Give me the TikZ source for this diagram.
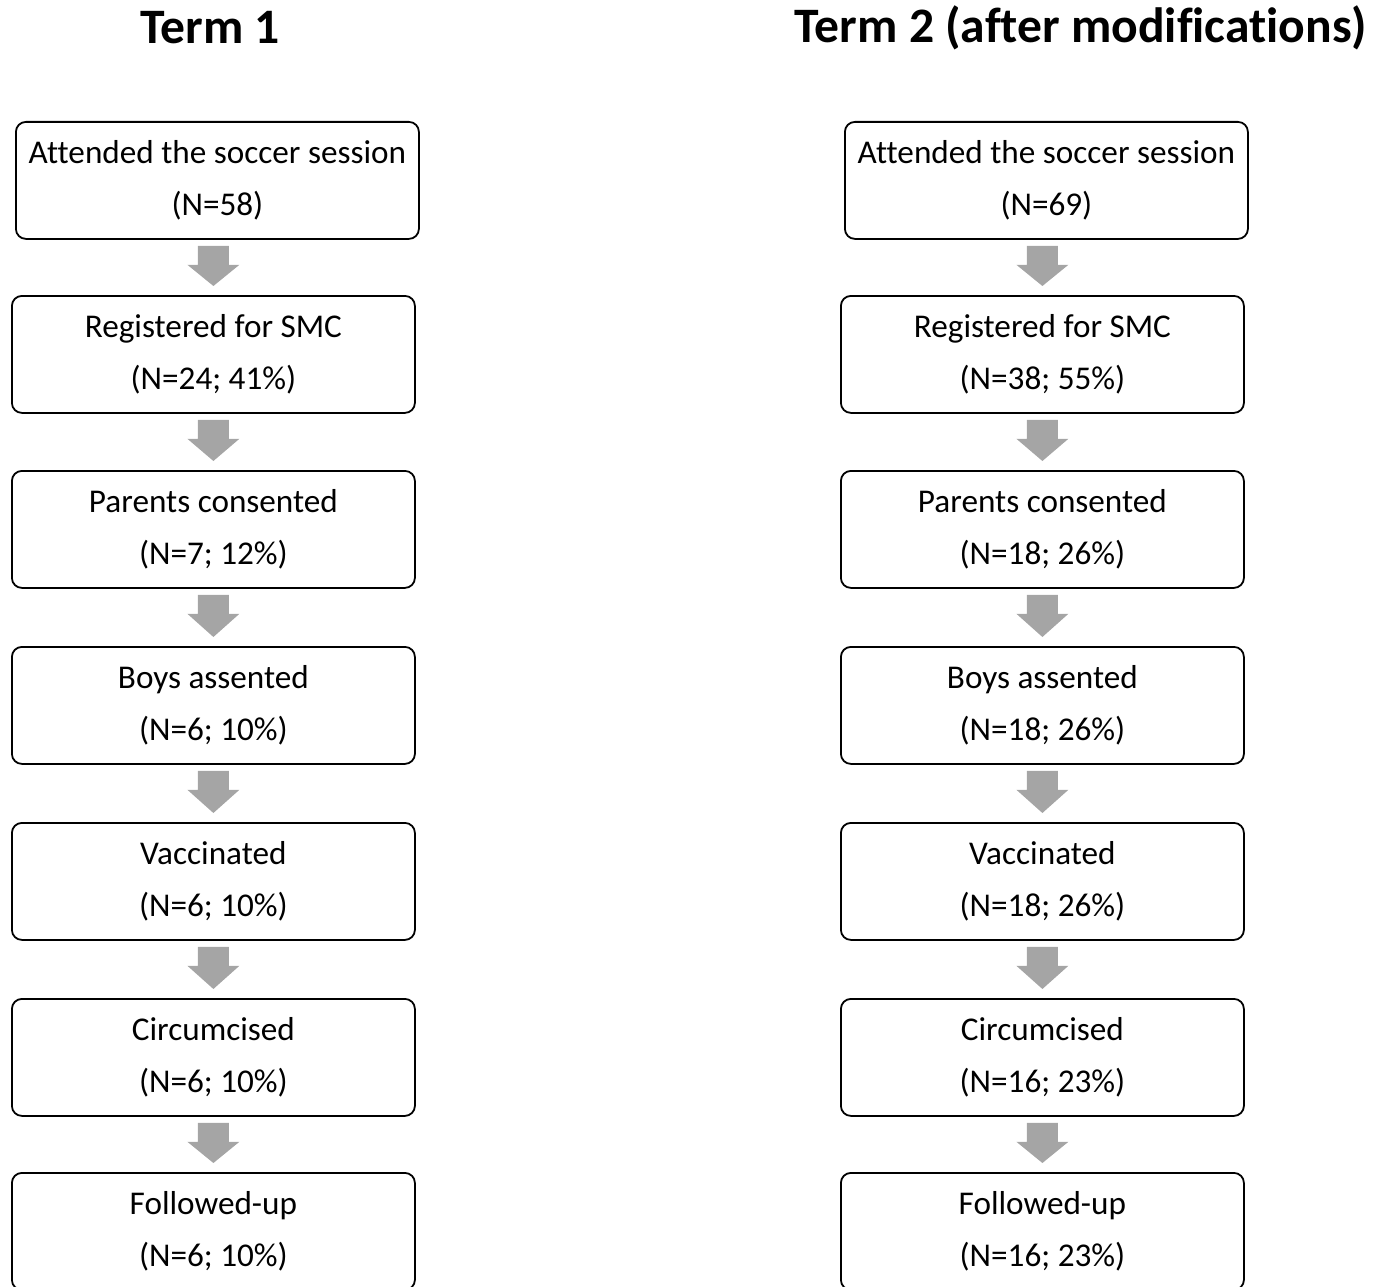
\documentclass[tikz,border=0pt]{standalone}
\usepackage{fontspec}
\setmainfont[Ligatures=NoCommon]{Carlito}
\usetikzlibrary{calc}
\definecolor{arrowgray}{HTML}{A5A5A5}
\tikzset{
  box/.style={draw=black, line width=1.8pt, rounded corners=10pt, minimum height=117pt, minimum width=403pt, inner sep=0pt, align=center, font=\fontsize{33.2}{52}\selectfont, anchor=north west},
  title/.style={font=\fontsize{49.6}{55}\selectfont\bfseries, inner sep=0pt},
}
\newcommand{\blockarrow}[2]{%
  \path let \p1=(#1.south), \p2=(#2.north) in
    coordinate (s) at (\x2,\y1) coordinate (t) at (\x2,\y2);
  \fill[arrowgray] ($(s)+(-15.5,6)$) -- ($(s)+(15.5,6)$) -- ($(s)+(15.5,25)$) -- ($(s)+(26,25)$)
    -- ($(t)+(0,-9)$) -- ($(s)+(-26,25)$) -- ($(s)+(-15.5,25)$) -- cycle;
}
\begin{document}
\begin{tikzpicture}[x=1pt,y=-1pt]
\useasboundingbox (0,0) rectangle (1385,1287);
\clip (0,0) rectangle (1385,1287);
\node[title] (t1) at (210,28) {Term 1};
\node[title] (t2) at (1081,28) {Term 2 (after modifications)};
% left column
\node[box] (a1) at (15,121) {Attended the soccer session\\(N=58)};
\node[box] (a2) at (11,295) {Registered for SMC\\(N=24; 41\%)};
\node[box] (a3) at (11,470) {Parents consented\\(N=7; 12\%)};
\node[box] (a4) at (11,646) {Boys assented\\(N=6; 10\%)};
\node[box] (a5) at (11,822) {Vaccinated\\(N=6; 10\%)};
\node[box] (a6) at (11,998) {Circumcised\\(N=6; 10\%)};
\node[box] (a7) at (11,1172) {Followed-up\\(N=6; 10\%)};
% right column
\node[box] (b1) at (844,121) {Attended the soccer session\\(N=69)};
\node[box] (b2) at (840,295) {Registered for SMC\\(N=38; 55\%)};
\node[box] (b3) at (840,470) {Parents consented\\(N=18; 26\%)};
\node[box] (b4) at (840,646) {Boys assented\\(N=18; 26\%)};
\node[box] (b5) at (840,822) {Vaccinated\\(N=18; 26\%)};
\node[box] (b6) at (840,998) {Circumcised\\(N=16; 23\%)};
\node[box] (b7) at (840,1172) {Followed-up\\(N=16; 23\%)};
\foreach \i/\j in {1/2,2/3,3/4,4/5,5/6,6/7}{
  \blockarrow{a\i}{a\j}
  \blockarrow{b\i}{b\j}
}
\end{tikzpicture}
\end{document}
